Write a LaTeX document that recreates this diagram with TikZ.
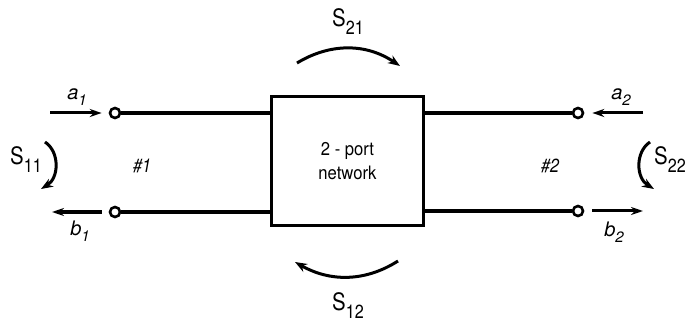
\documentclass[tikz,border=0pt]{standalone}
\usepackage{fontspec}
\setmainfont{TeX Gyre Heros}
\newfontfamily\narrowfont[FakeStretch=0.85]{TeX Gyre Heros}
\newfontfamily\boxfont[FakeStretch=0.9]{TeX Gyre Heros}
\usetikzlibrary{arrows.meta}

% scattering parameter label: S with a dropped index
\newcommand{\Sparam}[1]{{\narrowfont\fontsize{24}{24}\selectfont S\raisebox{-8pt}{\fontsize{19}{19}\selectfont #1}}}
% incident / reflected wave label
\newcommand{\wavelab}[2]{{\itshape\fontsize{20}{20}\selectfont #1\raisebox{-6pt}{\fontsize{15}{15}\selectfont #2}}}

\begin{document}
\begin{tikzpicture}[x=1pt,y=-1pt,
  wire/.style={line width=3.2pt},
  sig/.style={line width=3pt,-{Stealth[length=12pt,width=8pt]}},
  flow/.style={line width=3pt,-{Stealth[length=12pt,width=9pt]}},
  port/.style={circle,draw,line width=2.6pt,inner sep=0pt,minimum size=10pt,fill=white},
  netbox/.style={draw,line width=3.4pt,minimum width=152pt,minimum height=129pt,
    align=center,font=\boxfont\fontsize{18.5}{24}\selectfont},
  plabel/.style={font=\narrowfont\fontsize{19}{19}\selectfont\itshape}]
\useasboundingbox (0,0) rectangle (685,323);

% two-port block
\node[netbox] (net) at (347.5,161) {2 - port\\network};

% terminals
\node[port] (p1) at (115,113) {};
\node[port] (p2) at (115,212) {};
\node[port] (p3) at (578,113) {};
\node[port] (p4) at (578,211) {};

% transmission lines
\draw[wire] (p1.east) -- (p1.east -| net.west);
\draw[wire] (p2.east) -- (p2.east -| net.west);
\draw[wire] (p3.west) -- (p3.west -| net.east);
\draw[wire] (p4.west) -- (p4.west -| net.east);

% wave arrows
\coordinate (a1tail) at (50,113);
\coordinate (b1tip) at (52,212);
\coordinate (a2tail) at (643,113);
\coordinate (b2tip) at (643,211);
\draw[sig,shorten >=7pt] (a1tail) -- (p1.west);
\draw[sig,shorten <=7pt] (p2.west) -- (b1tip);
\draw[sig,shorten >=8pt] (a2tail) -- (p3.east);
\draw[sig,shorten <=8pt] (p4.east) -- (b2tip);

\node (la1) at (77,97) {\wavelab{a}{1}};
\node (lb1) at (80,231) {\wavelab{b}{1}};
\node (la2) at (621,97) {\wavelab{a}{2}};
\node (lb2) at (614,232) {\wavelab{b}{2}};

% port numbers
\node[plabel] (n1) at (142,166) {\#1};
\node[plabel] (n2) at (550,166) {\#2};

% S-parameter flow arcs
\coordinate (s21a) at (297,63);
\coordinate (s21b) at (400,66);
\draw[flow] (s21a) .. controls (330,43) and (366,43) .. (s21b);
\coordinate (s12a) at (398,261);
\coordinate (s12b) at (295,262);
\draw[flow] (s12a) .. controls (365,282) and (330,282) .. (s12b);
\coordinate (s11a) at (45,142);
\coordinate (s11b) at (41,189);
\draw[flow] (s11a) .. controls (60,152) and (59,178) .. (s11b);
\coordinate (s22a) at (650,142);
\coordinate (s22b) at (654,189);
\draw[flow] (s22a) .. controls (635,152) and (636,178) .. (s22b);

\node (ls21) at (348,22) {\Sparam{21}};
\node (ls12) at (348,306) {\Sparam{12}};
\node (ls11) at (26,160) {\Sparam{11}};
\node (ls22) at (670,160) {\Sparam{22}};
\end{tikzpicture}
\end{document}
